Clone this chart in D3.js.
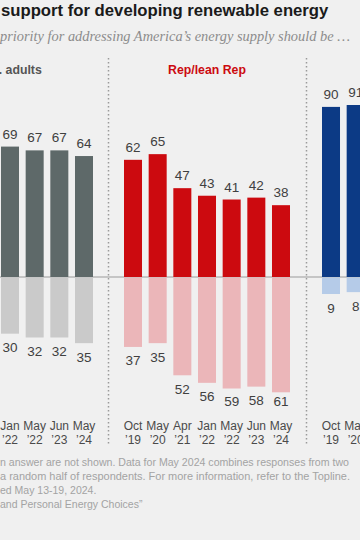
<!DOCTYPE html>
<html><head><meta charset="utf-8">
<script src="https://cdn.jsdelivr.net/npm/d3@7"></script>
<style>
html,body{margin:0;padding:0;background:#f0f0f0;overflow:hidden;}
svg{display:block;}
</style></head>
<body>
<svg id="c" width="360" height="540"></svg>
<script>
// ---- data ----
const months = ["Oct","May","Apr","Jan","May","Jun","May"];
const years  = ["\u201919","\u201920","\u201921","\u201922","\u201922","\u201923","\u201924"];
const panels = ["U.S. adults","Rep/lean Rep","Dem/lean Dem"];
const usRenew   = [null,null,null,69,67,67,64];
const usFossil  = [null,null,null,30,32,32,35];
const repRenew  = [62,65,47,43,41,42,38];
const repFossil = [37,35,52,56,59,58,61];
const demRenew  = [90,91,null,null,null,null,null];
const demFossil = [9,8,null,null,null,null,null];
const titleText = "support for developing renewable energy";
const subtitleText = "priority for addressing America\u2019s energy supply should be \u2026";
const notes = [
  "n answer are not shown. Data for May 2024 combines responses from two",
  "a random half of respondents. For more information, refer to the Topline.",
  "ed May 13-19, 2024.",
  "and Personal Energy Choices\u201d"
];

// ---- layout ----
const W = 360;
const svg = d3.select("#c");
const base = 277;
const y = d3.scaleLinear().domain([-100,100]).range([base+189, base-189]);
const panelStarts = [-73, 124, 322];
const panelW = 166;
const styles = [
  {pos:"#5e6969", neg:"#cacaca", title:"#555555"},
  {pos:"#cc0a0f", neg:"#ebb6b9", title:"#cc0a0f"},
  {pos:"#0c3a85", neg:"#b5cbe8", title:"#0c3a85"}
];
const series = [[usRenew,usFossil],[repRenew,repFossil],[demRenew,demFossil]];
const font = "'Liberation Sans', Arial, sans-serif";

svg.append("text").attr("x",1).attr("y",16)
  .attr("font-family",font).attr("font-weight","bold").attr("font-size",16.7)
  .attr("fill","#1a1a1a").text(titleText);
svg.append("text").attr("x",0).attr("y",41)
  .attr("font-family","'Liberation Serif', Georgia, serif").attr("font-style","italic")
  .attr("font-size",14).attr("fill","#8c8c8c")
  .attr("textLength",350).attr("lengthAdjust","spacingAndGlyphs").text(subtitleText);

// zero line
svg.append("line").attr("x1",0).attr("x2",W).attr("y1",y(0)).attr("y2",y(0))
  .attr("stroke","#9a9a9a").attr("stroke-width",1);

series.forEach((s,pi)=>{
  const x = d3.scaleBand().domain(d3.range(months.length))
    .range([panelStarts[pi], panelStarts[pi]+panelW]).paddingInner(0.27).paddingOuter(0);
  const cx = i => x(i)+x.bandwidth()/2;
  const g = svg.append("g");
  const st = styles[pi];
  const pos = s[0].map((v,i)=>({i,v})).filter(d=>d.v!=null);
  const neg = s[1].map((v,i)=>({i,v})).filter(d=>d.v!=null);
  g.selectAll(".p").data(pos).join("rect")
    .attr("x",d=>x(d.i)).attr("width",x.bandwidth())
    .attr("y",d=>y(d.v)).attr("height",d=>y(0)-y(d.v)).attr("fill",st.pos);
  g.selectAll(".n").data(neg).join("rect")
    .attr("x",d=>x(d.i)).attr("width",x.bandwidth())
    .attr("y",y(0)+0.5).attr("height",d=>y(-d.v)-y(0)-0.5).attr("fill",st.neg);
  g.selectAll(".pl").data(pos).join("text")
    .attr("x",d=>cx(d.i)).attr("y",d=>y(d.v)-8)
    .attr("text-anchor","middle").attr("font-family",font).attr("font-size",13.5)
    .attr("fill","#404040").text(d=>d.v);
  g.selectAll(".nl").data(neg).join("text")
    .attr("x",d=>cx(d.i)).attr("y",d=>Math.min(y(-d.v)+18.5,406))
    .attr("text-anchor","middle").attr("font-family",font).attr("font-size",13.5)
    .attr("fill","#404040").text(d=>d.v);
  // axis labels (only those falling in the visible window)
  const labs = months.map((m,i)=>({m,yr:years[i],i})).filter(d=>cx(d.i)>-8 && cx(d.i)<W+8);
  const ax = g.selectAll(".ax").data(labs).join("text")
    .attr("text-anchor","middle").attr("font-family",font).attr("font-size",12)
    .attr("fill","#4a4a4a");
  ax.append("tspan").attr("x",d=>cx(d.i)).attr("y",430).text(d=>d.m);
  ax.append("tspan").attr("x",d=>cx(d.i)).attr("y",444).text(d=>d.yr);
  // panel title
  const tx = panelStarts[pi]+panelW/2;
  if (tx > -40 && tx < W+30) {
    g.append("text").attr("x",tx).attr("y",74)
      .attr("text-anchor","middle").attr("font-family",font).attr("font-weight","bold")
      .attr("font-size",12.3).attr("fill",st.title).text(panels[pi]);
  }
});

// dotted dividers
[108.5, 306.5].forEach(xv=>{
  svg.append("line").attr("x1",xv).attr("x2",xv).attr("y1",58).attr("y2",444)
    .attr("stroke","#9a9a9a").attr("stroke-width",1.5).attr("stroke-dasharray","1.5,2.5");
});

// notes
const nl = [349, 350, null, null];
notes.forEach((t,i)=>{
  const tx = svg.append("text").attr("x",0).attr("y",466+i*14)
    .attr("font-family",font).attr("font-size",10.5).attr("fill","#a3a3a3").text(t);
  if(nl[i]) tx.attr("textLength",nl[i]).attr("lengthAdjust","spacingAndGlyphs");
});
</script>
</body></html>
